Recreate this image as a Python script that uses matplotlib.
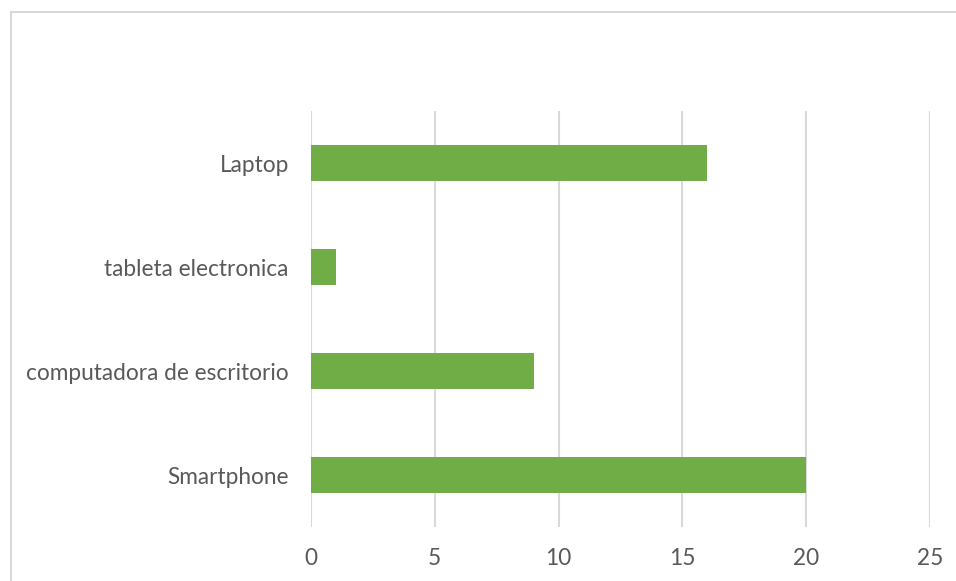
import matplotlib.pyplot as plt
from matplotlib.patches import Rectangle

categories = ['Smartphone', 'computadora de escritorio', 'tableta electronica', 'Laptop']
values = [20, 9, 1, 16]
xticks = [0, 5, 10, 15, 20, 25]

plt.rcParams['font.family'] = ['Lato', 'DejaVu Sans']

fig = plt.figure(figsize=(9.56, 5.81), dpi=100)
ax = fig.add_axes([311 / 956, 1 - 527 / 581, 619 / 956, 416 / 581])

# light frame round the chart, runs off right and bottom edge
fig.patches.append(Rectangle((11 / 956, -0.05), 1.2, 1 - 12 / 581 + 0.05,
                             transform=fig.transFigure, fill=False,
                             edgecolor='#d9d9d9', linewidth=1.5))

ax.barh(range(len(categories)), values, height=0.355, color='#70ad47', zorder=3)
ax.set_yticks(range(len(categories)))
ax.set_yticklabels(categories)
ax.set_ylim(-0.5, len(categories) - 0.5)
ax.set_xlim(0, 25)
ax.set_xticks(xticks)

ax.grid(axis='x', color='#d9d9d9', linewidth=1.5, zorder=0)
ax.grid(axis='y', visible=False)
for s in ax.spines.values():
    s.set_visible(False)
ax.tick_params(axis='both', length=0, labelsize=16.3, labelcolor='#595959')
ax.tick_params(axis='y', pad=16)
ax.tick_params(axis='x', pad=15)

fig.savefig('out.png', dpi=100)
